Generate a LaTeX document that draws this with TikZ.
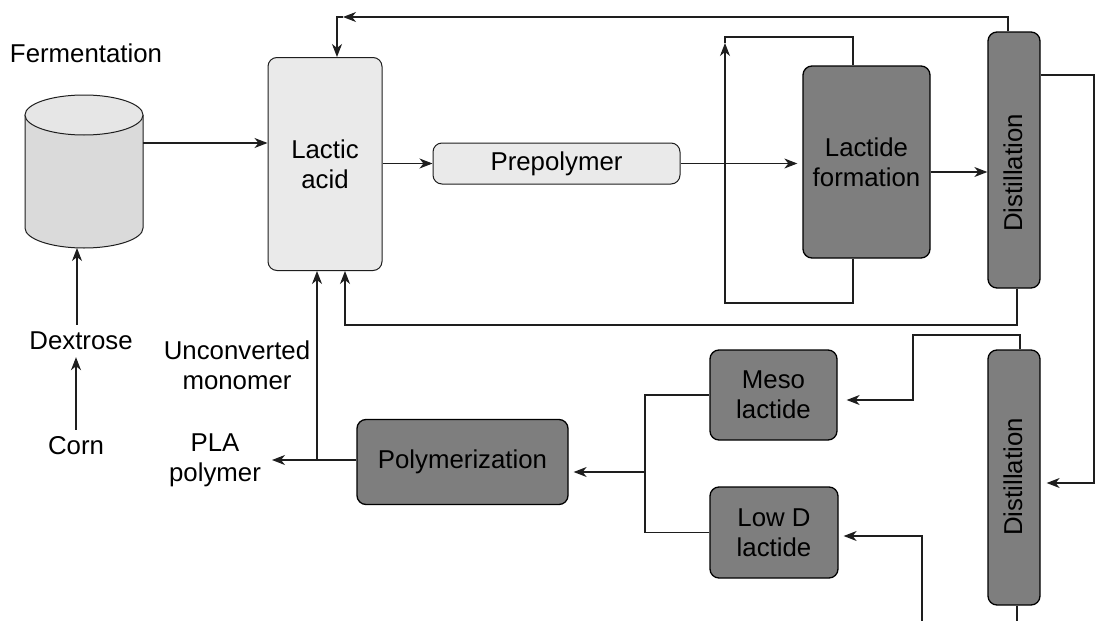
\documentclass[tikz,border=0pt]{standalone}
\usepackage{fontspec}
\setmainfont{Liberation Sans}
\usepackage{graphicx}
\usetikzlibrary{arrows.meta,calc}
\definecolor{lightfill}{RGB}{234,234,234}
\definecolor{darkfill}{RGB}{126,126,126}
\definecolor{cylbody}{RGB}{218,218,218}
\definecolor{cyltop}{RGB}{230,230,230}
\definecolor{linec}{RGB}{30,30,30}
\begin{document}
\begin{tikzpicture}[x=1pt,y=-1pt,
  txt/.style={font=\fontsize{25.8}{30}\selectfont, text=black},
  lbl/.style={txt, align=center, inner sep=0pt},
  lightbox/.style={txt, draw=linec, fill=lightfill, rounded corners=9pt, line width=1pt, align=center, inner sep=0pt},
  darkbox/.style={txt, draw=black, fill=darkfill, rounded corners=9pt, line width=1.3pt, align=center, inner sep=0pt},
  conn/.style={draw=linec, line width=1.1pt},
  arr/.style={conn, -{Stealth[length=13pt,width=10pt,inset=4pt]}},
]
\useasboundingbox (0,0) rectangle (1096,621);
\clip (0,0) rectangle (1096,621);
\fill[white] (0,0) rectangle (1096,621);

% cylinder (fermentation tank)
\fill[cylbody] (25,115) -- (25,228) arc[start angle=180,end angle=360,x radius=59pt,y radius=20pt] -- (143,115) -- cycle;
\draw[line width=1pt, draw=linec] (25,115) -- (25,228) arc[start angle=180,end angle=360,x radius=59pt,y radius=20pt] -- (143,115);
\draw[line width=1pt, draw=linec, fill=cyltop] (84,115) ellipse[x radius=59pt, y radius=20pt];
\coordinate (cylE) at (143,143);
\coordinate (cylS) at (77,248);

% boxes
\node[lightbox, minimum width=114pt, minimum height=213pt] (la) at (325,164) {Lactic\\acid};
\node[lightbox, minimum width=247pt, minimum height=41pt] (pre) at (556.5,163.5) {Prepolymer};
\node[darkbox, minimum width=127pt, minimum height=192pt] (lf) at (866.5,162) {Lactide\\formation};
\node[darkbox, minimum width=52pt, minimum height=256pt] (d1) at (1014,160) {};
\node[lbl, rotate=90] (d1t) at (1013,173) {Distillation};
\node[darkbox, minimum width=52pt, minimum height=255pt] (d2) at (1014,477.5) {};
\node[lbl, rotate=90] (d2t) at (1013,477) {Distillation};
\node[darkbox, minimum width=127pt, minimum height=90pt] (meso) at (773.5,395) {Meso\\lactide};
\node[darkbox, minimum width=128pt, minimum height=91pt] (lowd) at (774,532.5) {Low D\\lactide};
\node[darkbox, minimum width=211pt, minimum height=85pt] (poly) at (462.5,462) {Polymerization};

% labels
\node[lbl] (ferm) at (86,53) {Fermentation};
\node[lbl] (dex) at (81,341) {Dextrose};
\node[lbl] (corn) at (76,446) {Corn};
\node[lbl] (unc) at (237,365) {Unconverted\\monomer};
\node[lbl] (pla) at (215,460) {PLA\\polymer};

% connectors
\draw[arr] (cylE) -- (cylE -| la.west);
\draw[arr, shorten <=7pt] (dex.north -| cylS) -- (cylS);
\draw[arr, shorten <=7pt, shorten >=7pt] (corn.north) -- (corn.north |- dex.south);
\draw[arr] (la.east |- pre.west) -- (pre.west);
\draw[arr, shorten >=5pt] (pre.east) -- (pre.east -| lf.west);
\coordinate (lfo) at ($(lf.east)+(0,10)$);
\draw[arr] (lfo) -- (lfo -| d1.west);

% loop around lactide formation
\coordinate (lpx) at (853,0);
\coordinate (lpl) at (725,303);
\coordinate (lpt) at (725,37);
\draw[arr] (lf.south -| lpx) |- (lpl) -- ($(lpt)+(0,6)$);
\draw[conn] ($(lpt)+(0,6)$) -- (lpt) -| (lf.north -| lpx);

% top recycle
\coordinate (d1tx) at (1008,0);
\coordinate (tpa) at (343,17);
\coordinate (tpc) at (337,17);
\draw[arr] (d1.north -| d1tx) |- (tpa);
\draw[arr] (tpa) -- (tpc) -- (tpc |- la.north);

% bottom return to lactic acid
\coordinate (d1bx) at (1017,0);
\coordinate (brl) at (345,325);
\draw[arr] (d1.south -| d1bx) |- (brl) -- (brl |- la.south);

% distillation 1 -> distillation 2
\coordinate (rr) at (1094,75);
\coordinate (rb) at (1094,483);
\draw[arr, shorten >=6pt] (d1.east |- rr) -- (rr) -- (rb) -- (rb -| d2.east);

% distillation 2 -> meso lactide
\coordinate (d2tx) at (1020,0);
\coordinate (mt) at (913,335);
\coordinate (mi) at (913,400);
\draw[arr, shorten >=9pt] (d2.north -| d2tx) |- (mt) -- (mi) -- (mi -| meso.east);

% distillation 2 bottom, low D lactide feed
\coordinate (d2bx) at (1017,650);
\draw[conn] (d2.south -| d2bx) -- (d2bx);
\coordinate (lb) at (922,650);
\coordinate (li) at (922,536);
\draw[arr, shorten >=5pt] (lb) -- (li) -- (li -| lowd.east);

% lactides -> polymerization
\coordinate (j) at (645,472);
\draw[conn] (meso.west) -| (j);
\draw[conn] (lowd.west) -| (j);
\draw[arr, shorten >=5pt] (j) -- (j -| poly.east);

% polymerization -> PLA, unconverted monomer
\coordinate (plt) at (272,460);
\draw[arr] (poly.west |- plt) -- (plt);
\coordinate (um) at (317,460);
\draw[arr] (um) -- (um |- la.south);
\end{tikzpicture}
\end{document}
